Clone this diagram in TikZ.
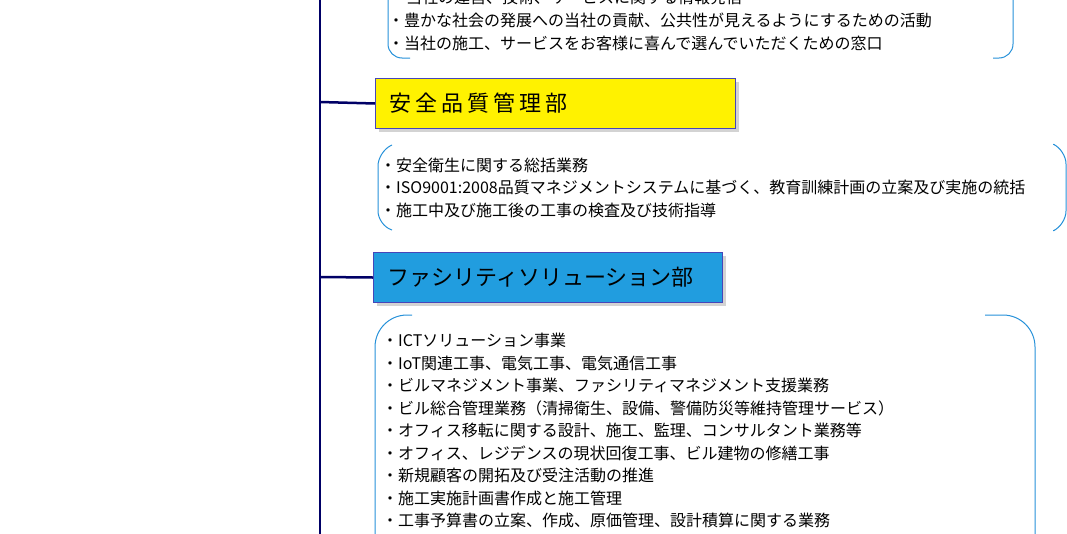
\documentclass[tikz,border=0pt]{standalone}
\usepackage{fontspec}
\setmainfont{Noto Sans CJK JP}
\usetikzlibrary{positioning,shadows}
\tikzset{
  deptbox/.style={draw=blue!45!gray,line width=1pt,minimum height=50pt,anchor=north west,
    inner xsep=14pt,align=left,font=\fontsize{22}{22}\selectfont,drop shadow={opacity=0.35,shadow xshift=3pt,shadow yshift=-3pt}},
  bracket/.style={draw=blue!40!cyan!70!gray,line width=1pt,rounded corners=#1},
  item/.style={anchor=base west,inner sep=0pt,font=\fontsize{16}{16}\selectfont},
  trunk/.style={draw=blue!40!black,line width=2.5pt}
}
\begin{document}
\begin{tikzpicture}[x=1pt,y=-1pt]
\useasboundingbox (0,0) rectangle (1067,533);
\clip (0,0) rectangle (1067,533);
% trunk
\coordinate (top) at (320,-5);
\coordinate (bot) at (320,540);
\draw[trunk] (top) -- (bot);
% first (cut) block
\draw[bracket=14pt] (388,0) -- (388,58) -- (410,58);
\draw[bracket=14pt] (1013,0) -- (1013,58) -- (993,58);
\node[item] (t1) at (390,3) {・当社の運営、技術、サービスに関する情報発信};
\node[item] (t2) at (388,26) {・豊かな社会の発展への当社の貢献、公共性が見えるようにするための活動};
\node[item] (t3) at (388,49) {・当社の施工、サービスをお客様に喜んで選んでいただくための窓口};
% safety
\node[deptbox,fill=yellow,text width=332pt] (safe) at (375,78)
  {安\hspace{4pt}全\hspace{4pt}品\hspace{4pt}質\hspace{4pt}管\hspace{4pt}理\hspace{4pt}部};
\coordinate (j1) at (320,102);
\draw[trunk] (j1) -- (safe.west);
\draw[bracket=14pt] (392,145) -- (378,152) -- (378,225) -- (392,230);
\draw[bracket=14pt] (1055,145) -- (1066,150) -- (1066,225) -- (1055,230);
\node[item] (s1) at (380,171) {・安全衛生に関する総括業務};
\node[item] (s2) at (380,193) {・ISO9001:2008品質マネジメントシステムに基づく、教育訓練計画の立案及び実施の統括};
\node[item] (s3) at (380,216) {・施工中及び施工後の工事の検査及び技術指導};
% facility
\node[deptbox,fill=cyan!80!blue!90,text width=321pt] (fac) at (373,252)
  {ファシリティソリューション部};
\coordinate (j2) at (320,277);
\draw[trunk] (j2) -- (fac.west);
\draw[bracket=32pt] (412,315) -- (375,315) -- (375,540);
\draw[bracket=32pt] (985,315) -- (1035,315) -- (1035,540);
\foreach \txt [count=\i] in {%
  ・ICTソリューション事業,
  ・IoT関連工事、電気工事、電気通信工事,
  ・ビルマネジメント事業、ファシリティマネジメント支援業務,
  ・ビル総合管理業務（清掃衛生、設備、警備防災等維持管理サービス）,
  ・オフィス移転に関する設計、施工、監理、コンサルタント業務等,
  ・オフィス、レジデンスの現状回復工事、ビル建物の修繕工事,
  ・新規顧客の開拓及び受注活動の推進,
  ・施工実施計画書作成と施工管理,
  ・工事予算書の立案、作成、原価管理、設計積算に関する業務}
  \node[item] (f\i) at (382,{324+22.5*\i}) {\txt};
\end{tikzpicture}
\end{document}
